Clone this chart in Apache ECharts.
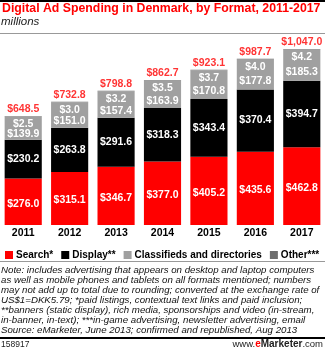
<!DOCTYPE html>
<html><head><meta charset="utf-8">
<script src="https://cdn.jsdelivr.net/npm/echarts@6/dist/echarts.min.js"></script>
<style>html,body{margin:0;padding:0;background:#fff}#c{width:325px;height:350px}</style>
</head><body><div id="c"></div>
<script>
var years = ['2011','2012','2013','2014','2015','2016','2017'];
var search = [276.0, 315.1, 346.7, 377.0, 405.2, 435.6, 462.8];
var display = [230.2, 263.8, 291.6, 318.3, 343.4, 370.4, 394.7];
var classifieds = [139.9, 151.0, 157.4, 163.9, 170.8, 177.8, 185.3];
var other = [2.5, 3.0, 3.2, 3.5, 3.7, 4.0, 4.2];
var totals = [648.5, 732.8, 798.8, 862.7, 923.1, 987.7, 1047.0];
var noteLines = [
 'Note: includes advertising that appears on desktop and laptop computers',
 'as well as mobile phones and tablets on all formats mentioned; numbers',
 'may not add up to total due to rounding; converted at the exchange rate of',
 'US$1=DKK5.79; *paid listings, contextual text links and paid inclusion;',
 '**banners (static display), rich media, sponsorships and video (in-stream,',
 'in-banner, in-text); ***in-game advertising, newsletter advertising, email',
 'Source: eMarketer, June 2013; confirmed and republished, Aug 2013'
];
var FONT = '"Liberation Sans", Arial, sans-serif';
function money(v){
  var s = v.toFixed(1); var p = s.split('.');
  p[0] = p[0].replace(/\B(?=(\d{3})+(?!\d))/g, ',');
  return '$' + p.join('.');
}
var lbl = {show:true, color:'#fff', fontWeight:'bold', fontSize:10.5, fontFamily:FONT,
  formatter:function(p){return money(p.value);}};
var chart = echarts.init(document.getElementById('c'), null, {renderer:'canvas'});
chart.setOption({
  animation:false,
  grid:{left:0, right:0, top:40, bottom:125},
  xAxis:{type:'category', data:years, axisLine:{show:false}, axisTick:{show:false},
    axisLabel:{color:'#000', fontWeight:'bold', fontSize:10.5, fontFamily:FONT, margin:3}},
  yAxis:{type:'value', min:0, max:1100, show:false, splitLine:{show:false}},
  legend:{left:0, top:245, itemWidth:8, itemHeight:8, itemGap:8, icon:'rect',
    textStyle:{color:'#000', fontWeight:'bold', fontSize:10, fontFamily:FONT, padding:[0,0,0,-2]},
    data:['Search*','Display**','Classifieds and directories','Other***']},
  series:[
    {name:'Search*', type:'bar', stack:'a', barWidth:'80%', data:search, itemStyle:{color:'#ff0000'},
      label:Object.assign({}, lbl, {position:'inside', offset:[0,2]})},
    {name:'Display**', type:'bar', stack:'a', data:display, itemStyle:{color:'#000000'},
      label:Object.assign({}, lbl, {position:'inside'})},
    {name:'Classifieds and directories', type:'bar', stack:'a', data:classifieds, itemStyle:{color:'#a0a0a0'},
      label:Object.assign({}, lbl, {position:'inside', offset:[0,6.5]})},
    {name:'Other***', type:'bar', stack:'a', data:other, itemStyle:{color:'#6e6e6e'},
      label:Object.assign({}, lbl, {position:'bottom', distance:2})},
    {name:'total', type:'scatter', data:totals, symbolSize:0, silent:true,
      label:{show:true, position:'top', distance:1, color:'#ff0000', fontWeight:'bold', fontSize:10.5, fontFamily:FONT,
        formatter:function(p){return money(p.value);}}}
  ],
  graphic:[
    {type:'rect', shape:{x:0,y:0,width:325,height:2}, style:{fill:'#000'}},
    {type:'text', left:2, top:3, style:{text:'Digital Ad Spending in Denmark, by Format, 2011-2017', fill:'#ff0000',
      font:'bold 12.3px '+FONT}},
    {type:'text', left:1, top:16, style:{text:'millions', fill:'#222', font:'italic 11.5px '+FONT}},
    {type:'rect', shape:{x:0,y:33,width:325,height:1}, style:{fill:'#999'}},
    {type:'rect', shape:{x:0,y:261,width:325,height:1}, style:{fill:'#999'}},
    {type:'text', left:1, top:265, style:{text:noteLines.join('\n'), fill:'#111', font:'italic 9.7px '+FONT, lineHeight:10.1}},
    {type:'rect', shape:{x:0,y:337,width:325,height:2}, style:{fill:'#000'}},
    {type:'text', left:1, top:340, style:{text:'158917', fill:'#222', font:'8.5px '+FONT}},
    {type:'text', right:2, top:339, style:{text:'{n|www.}{r|e}{b|Marketer}{n|.com}',
      rich:{n:{fontSize:9.5, fontFamily:FONT, fill:'#222'}, r:{fontSize:10, fontWeight:'bold', fontFamily:FONT, fill:'#ff0000'},
        b:{fontSize:10, fontWeight:'bold', fontFamily:FONT, fill:'#222'}}}}
  ]
});
</script></body></html>
